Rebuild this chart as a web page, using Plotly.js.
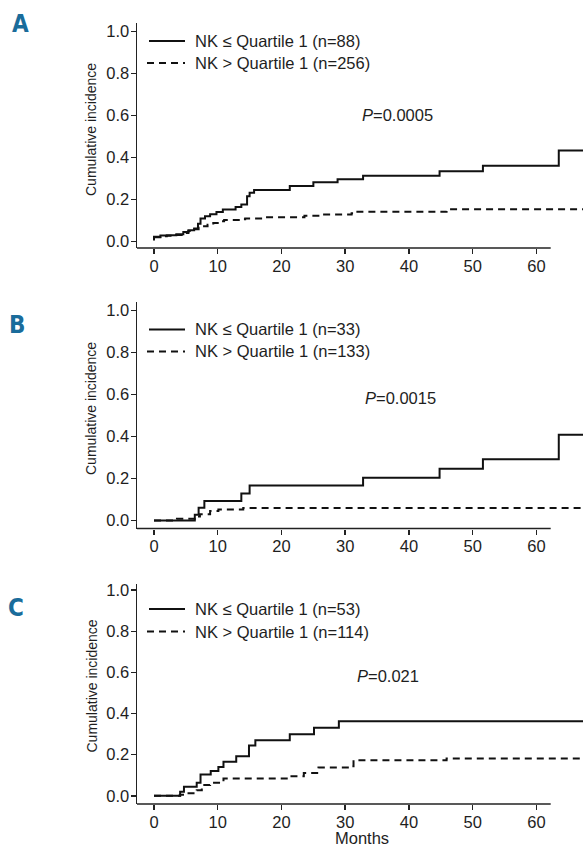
<!DOCTYPE html>
<html><head><meta charset="utf-8">
<script src="https://cdn.plot.ly/plotly-3.0.1.min.js"></script>
<style>html,body{margin:0;padding:0;background:#fff}#chart{width:583px;height:848px}</style>
</head><body><div id="chart"></div>
<script>
// ---------- data ----------
const monthTicks = [0, 10, 20, 30, 40, 50, 60];
const incidenceTicks = [0, 0.2, 0.4, 0.6, 0.8, 1.0];
const panelLetters = ['A', 'B', 'C'];
const legendLow = ['NK ≤ Quartile 1 (n=88)', 'NK ≤ Quartile 1 (n=33)', 'NK ≤ Quartile 1 (n=53)'];
const legendHigh = ['NK > Quartile 1 (n=256)', 'NK > Quartile 1 (n=133)', 'NK > Quartile 1 (n=114)'];
const pValues = ['0.0005', '0.0015', '0.021'];
const yTitle = 'Cumulative incidence';
const xTitle = 'Months';

// Panel A
const aLowMonths = [0, 0, 1.0, 2.0, 3.5, 4.6, 5.4, 6.3, 6.9, 7.3, 8.0, 8.8, 9.8, 10.8, 12.8, 13.7, 14.6, 15.0, 15.7, 21.3, 25.0, 28.8, 32.8, 44.8, 51.6, 63.5, 68];
const aLowInc = [0.005, 0.023, 0.028, 0.030, 0.034, 0.045, 0.054, 0.062, 0.085, 0.110, 0.120, 0.130, 0.141, 0.152, 0.164, 0.176, 0.215, 0.232, 0.245, 0.264, 0.282, 0.296, 0.313, 0.334, 0.361, 0.433, 0.433];
const aHighMonths = [0, 1.0, 2.0, 3.5, 4.6, 5.4, 6.3, 7.0, 7.6, 8.4, 9.3, 10.2, 11.0, 13.8, 14.3, 17.2, 23.6, 26.5, 31.0, 31.5, 45.9, 68];
const aHighInc = [0.020, 0.025, 0.027, 0.031, 0.040, 0.050, 0.058, 0.065, 0.072, 0.080, 0.088, 0.096, 0.102, 0.106, 0.110, 0.115, 0.123, 0.129, 0.134, 0.142, 0.153, 0.153];

// Panel B
const bLowMonths = [0, 6.4, 7.0, 7.9, 13.7, 15.0, 32.8, 44.8, 51.6, 63.5, 68];
const bLowInc = [0, 0.027, 0.061, 0.093, 0.128, 0.167, 0.203, 0.246, 0.292, 0.408, 0.408];
const bHighMonths = [0, 3.6, 6.4, 7.2, 8.8, 10.1, 14.0, 68];
const bHighInc = [0, 0.008, 0.019, 0.030, 0.045, 0.053, 0.059, 0.059];

// Panel C
const cLowMonths = [0, 4.1, 4.7, 6.7, 7.3, 8.9, 10.1, 10.9, 12.9, 14.9, 15.9, 21.3, 25.1, 29.0, 68];
const cLowInc = [0, 0.019, 0.044, 0.063, 0.103, 0.121, 0.140, 0.165, 0.192, 0.245, 0.270, 0.299, 0.331, 0.362, 0.362];
const cHighMonths = [0, 4.1, 5.1, 6.7, 7.5, 8.8, 10.9, 21.4, 23.5, 25.8, 31.0, 31.3, 45.9, 68];
const cHighInc = [0, 0.005, 0.012, 0.027, 0.052, 0.063, 0.084, 0.095, 0.111, 0.137, 0.144, 0.173, 0.181, 0.181];

const lowSeries = [[aLowMonths, aLowInc], [bLowMonths, bLowInc], [cLowMonths, cLowInc]];
const highSeries = [[aHighMonths, aHighInc], [bHighMonths, bHighInc], [cHighMonths, cHighInc]];

// ---------- layout ----------
const W = 583, H = 848, L = 137;
const px = v => (v - L) / (W - L);
const py = v => 1 - v / H;
const FONT = 'Liberation Sans, Arial, sans-serif';
const TXT = '#1e1e1e';
const LINE = '#111';
const DASH = '7px,5px';

const panels = [
  {top: 23, bottom: 248, range: [-0.031, 1.0405], legY: [41, 63], letter: [20, 24], p: [397, 115], titleY: 130},
  {top: 302, bottom: 528.5, range: [-0.038, 1.04], legY: [329.5, 351.5], letter: [16.5, 325], p: [400, 397.5], titleY: 409},
  {top: 584, bottom: 804, range: [-0.04, 1.03], legY: [609, 631.5], letter: [16, 608], p: [387.5, 676], titleY: 686.5}
];

const traces = [];
const shapes = [];
const annotations = [];
const layout = {
  width: W, height: H,
  margin: {l: L, r: 0, t: 0, b: 0},
  paper_bgcolor: '#fff', plot_bgcolor: '#fff',
  showlegend: false,
  font: {family: FONT, color: TXT, size: 16.5}
};

panels.forEach((p, i) => {
  const sx = i === 0 ? '' : String(i + 1);
  const xa = 'x' + sx, ya = 'y' + sx;
  traces.push({
    x: lowSeries[i][0], y: lowSeries[i][1], xaxis: xa, yaxis: ya,
    type: 'scatter', mode: 'lines', name: legendLow[i],
    line: {shape: 'hv', color: LINE, width: 2}
  });
  traces.push({
    x: highSeries[i][0], y: highSeries[i][1], xaxis: xa, yaxis: ya,
    type: 'scatter', mode: 'lines', name: legendHigh[i],
    line: {shape: 'hv', color: LINE, width: 2, dash: DASH}
  });
  layout['xaxis' + sx] = {
    anchor: ya, range: [-2.667, 67.3], domain: [0, 1],
    tickvals: monthTicks, ticks: 'outside', ticklen: 5, tickwidth: 1.5, tickcolor: '#222',
    ticklabelstandoff: -2,
    showline: false, showgrid: false, zeroline: false,
    tickfont: {family: FONT, size: 16.5, color: TXT}
  };
  layout['yaxis' + sx] = {
    anchor: xa, range: p.range, domain: [py(p.bottom), py(p.top)],
    tickvals: incidenceTicks, tickformat: '.1f', ticks: 'outside', ticklen: 5, tickwidth: 1.5, tickcolor: '#222',
    ticklabelstandoff: -2,
    showline: true, linecolor: '#222', linewidth: 1.5,
    showgrid: false, zeroline: false,
    tickfont: {family: FONT, size: 16.5, color: TXT}
  };
  // x axis line (stops before the right end, like the original)
  shapes.push({type: 'line', xref: 'paper', yref: 'paper',
    x0: 0, x1: px(550.7), y0: py(p.bottom), y1: py(p.bottom),
    line: {color: '#222', width: 1.5}});
  // legend samples
  shapes.push({type: 'line', xref: 'paper', yref: 'paper',
    x0: px(149), x1: px(185), y0: py(p.legY[0]), y1: py(p.legY[0]),
    line: {color: LINE, width: 2}});
  shapes.push({type: 'line', xref: 'paper', yref: 'paper',
    x0: px(147), x1: px(185), y0: py(p.legY[1]), y1: py(p.legY[1]),
    line: {color: LINE, width: 2, dash: DASH}});
  annotations.push({xref: 'paper', yref: 'paper', x: px(193), y: py(p.legY[0]),
    xanchor: 'left', yanchor: 'middle', showarrow: false, text: legendLow[i],
    font: {family: FONT, size: 16.5, color: TXT}});
  annotations.push({xref: 'paper', yref: 'paper', x: px(193), y: py(p.legY[1]),
    xanchor: 'left', yanchor: 'middle', showarrow: false, text: legendHigh[i],
    font: {family: FONT, size: 16.5, color: TXT}});
  // P value
  annotations.push({xref: 'paper', yref: 'paper', x: px(p.p[0]), y: py(p.p[1]),
    xanchor: 'center', yanchor: 'middle', showarrow: false,
    text: '<i>P</i>=' + pValues[i],
    font: {family: FONT, size: 16.5, color: TXT}});
  // y title
  annotations.push({xref: 'paper', yref: 'paper', x: px(91), y: py(p.titleY),
    xanchor: 'center', yanchor: 'middle', showarrow: false, textangle: -90,
    text: yTitle, font: {family: FONT, size: 14, color: TXT}});
  // panel letter
  annotations.push({xref: 'paper', yref: 'paper', x: px(p.letter[0]), y: py(p.letter[1]),
    xanchor: 'center', yanchor: 'middle', showarrow: false,
    text: '<b>' + panelLetters[i] + '</b>',
    font: {family: 'Liberation Sans Narrow, DejaVu Sans Condensed, Liberation Sans, sans-serif', size: 24, color: '#1a6c9b'}});
});

annotations.push({xref: 'x3', yref: 'paper', x: 32.6, y: 0,
  xanchor: 'center', yanchor: 'bottom', showarrow: false, text: xTitle,
  borderpad: 0,
  font: {family: FONT, size: 16.5, color: TXT}});

layout.shapes = shapes;
layout.annotations = annotations;

Plotly.newPlot('chart', traces, layout, {displayModeBar: false, staticPlot: true});
</script>
</body></html>
